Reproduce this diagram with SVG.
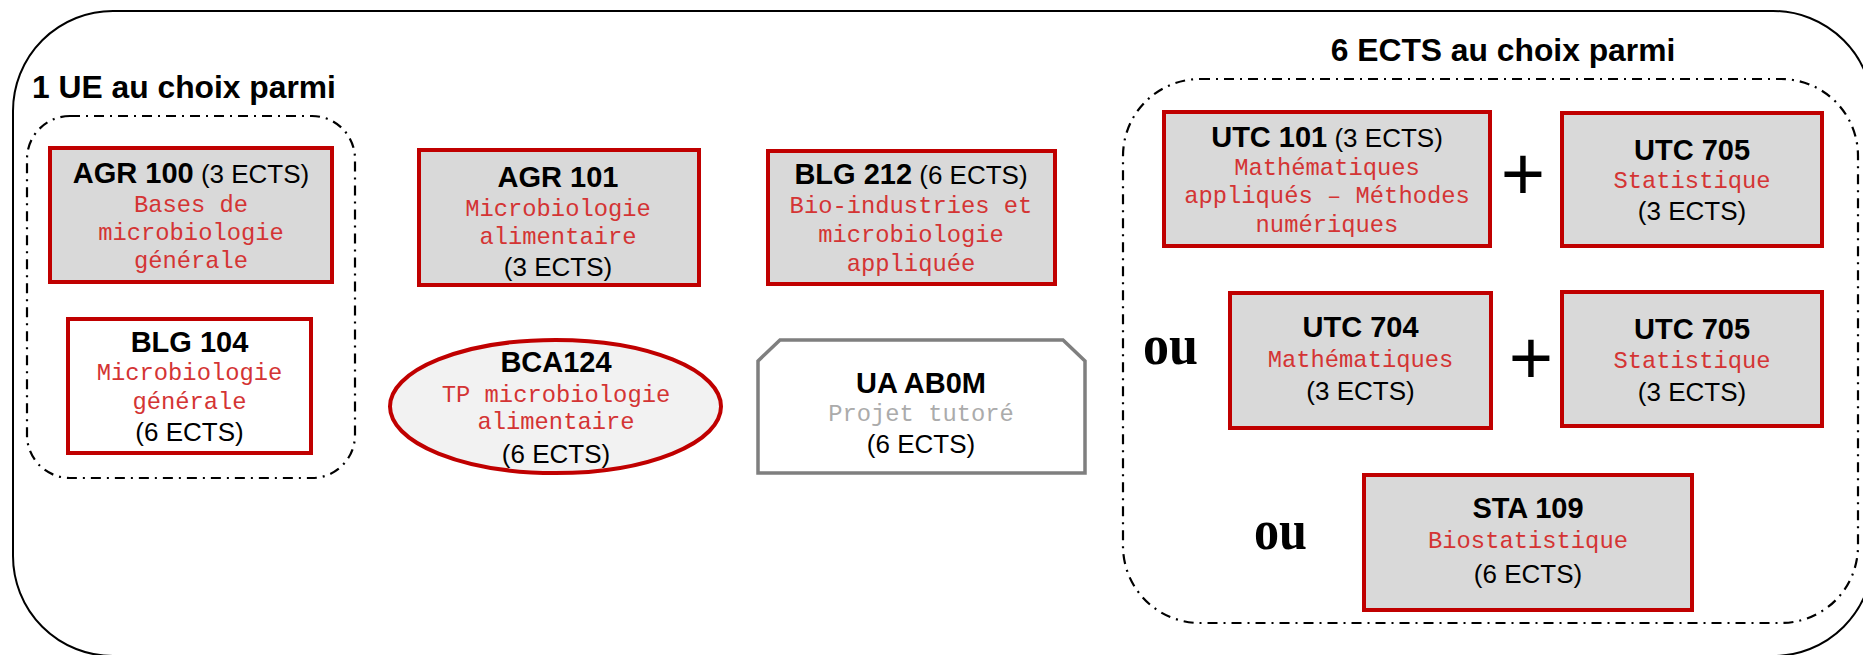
<svg xmlns="http://www.w3.org/2000/svg" width="1863" height="655" viewBox="0 0 1863 655">
<style>
.outer{fill:none;stroke:#000;stroke-width:2}
.grp{fill:none;stroke:#000;stroke-width:2.2;stroke-dasharray:10 6 2 6}
.box{fill:#d9d9d9;stroke:#c00000;stroke-width:4}
.wbox{fill:#ffffff;stroke:#c00000;stroke-width:4}
.ell{fill:#f2f2f2;stroke:#c00000;stroke-width:4}
.gbox{fill:#ffffff;stroke:#7f7f7f;stroke-width:3.5}
text{text-anchor:middle}
.h{font-family:"Liberation Sans",Arial,sans-serif;font-weight:bold;font-size:29px;fill:#000}
.e{font-family:"Liberation Sans",Arial,sans-serif;font-weight:normal;font-size:26px;fill:#000}
.r{font-family:"Liberation Mono","Courier New",monospace;font-size:23.8px;fill:#d43434}
.g{font-family:"Liberation Mono","Courier New",monospace;font-size:23.8px;fill:#ababab}
.t{font-family:"Liberation Sans",Arial,sans-serif;font-weight:bold;font-size:31.8px;fill:#000}
.ou{font-family:"Liberation Serif","Times New Roman",serif;font-weight:bold;font-size:58px;fill:#000}
.plus{font-family:"Liberation Sans",Arial,sans-serif;font-size:76px;fill:#000}
</style>
<rect class="outer" x="13" y="11" width="1860" height="645" rx="100" ry="100"/>
<g id="group-left">
<rect class="grp" x="27" y="116" width="328" height="362" rx="43" ry="43"/>
<text class="t" x="32" y="98" style="text-anchor:start">1 UE au choix parmi</text>
</g>
<g id="group-right">
<rect class="grp" x="1123" y="79" width="735" height="544" rx="77" ry="77"/>
<text class="t" x="1503" y="61">6 ECTS au choix parmi</text>
</g>
<g id="agr100">
<rect class="box" x="50" y="148" width="282" height="134"/>
<text x="191" y="183"><tspan class="h">AGR 100</tspan><tspan class="e"> (3 ECTS)</tspan></text>
<text class="r" x="191" y="212">Bases de</text>
<text class="r" x="191" y="240">microbiologie</text>
<text class="r" x="191" y="268">générale</text>
</g>
<g id="blg104">
<rect class="wbox" x="68" y="319" width="243" height="134"/>
<text class="h" x="189.5" y="352">BLG 104</text>
<text class="r" x="189.5" y="380">Microbiologie</text>
<text class="r" x="189.5" y="409">générale</text>
<text class="e" x="189.5" y="441">(6 ECTS)</text>
</g>
<g id="agr101">
<rect class="box" x="419" y="150" width="280" height="135"/>
<text class="h" x="558" y="187">AGR 101</text>
<text class="r" x="558" y="216">Microbiologie</text>
<text class="r" x="558" y="244">alimentaire</text>
<text class="e" x="558" y="276">(3 ECTS)</text>
</g>
<g id="bca124">
<ellipse class="ell" cx="555.5" cy="406.5" rx="165.5" ry="66.5"/>
<text class="h" x="556" y="372">BCA124</text>
<text class="r" x="556" y="402">TP microbiologie</text>
<text class="r" x="556" y="429">alimentaire</text>
<text class="e" x="556" y="463">(6 ECTS)</text>
</g>
<g id="blg212">
<rect class="box" x="768" y="151" width="287" height="133"/>
<text x="911" y="184"><tspan class="h">BLG 212</tspan><tspan class="e"> (6 ECTS)</tspan></text>
<text class="r" x="911" y="213">Bio-industries et</text>
<text class="r" x="911" y="242">microbiologie</text>
<text class="r" x="911" y="271">appliquée</text>
</g>
<g id="uaab0m">
<path class="gbox" d="M758,361 L780,340 L1063,340 L1085,361 L1085,473 L758,473 Z"/>
<text class="h" x="921" y="393">UA AB0M</text>
<text class="g" x="921" y="421">Projet tutoré</text>
<text class="e" x="921" y="453">(6 ECTS)</text>
</g>
<g id="utc101">
<rect class="box" x="1164" y="112" width="326" height="134"/>
<text x="1327" y="147"><tspan class="h">UTC 101</tspan><tspan class="e"> (3 ECTS)</tspan></text>
<text class="r" x="1327" y="175">Mathématiques</text>
<text class="r" x="1327" y="203">appliqués – Méthodes</text>
<text class="r" x="1327" y="232">numériques</text>
</g>
<g id="utc705a">
<rect class="box" x="1562" y="113" width="260" height="133"/>
<text class="h" x="1692" y="160">UTC 705</text>
<text class="r" x="1692" y="188">Statistique</text>
<text class="e" x="1692" y="220">(3 ECTS)</text>
</g>
<g id="utc704">
<rect class="box" x="1230" y="293" width="261" height="135"/>
<text class="h" x="1360.5" y="337">UTC 704</text>
<text class="r" x="1360.5" y="367">Mathématiques</text>
<text class="e" x="1360.5" y="400">(3 ECTS)</text>
</g>
<g id="utc705b">
<rect class="box" x="1562" y="292" width="260" height="134"/>
<text class="h" x="1692" y="339">UTC 705</text>
<text class="r" x="1692" y="368">Statistique</text>
<text class="e" x="1692" y="401">(3 ECTS)</text>
</g>
<g id="sta109">
<rect class="box" x="1364" y="475" width="328" height="135"/>
<text class="h" x="1528" y="518">STA 109</text>
<text class="r" x="1528" y="548">Biostatistique</text>
<text class="e" x="1528" y="583">(6 ECTS)</text>
</g>
<g id="labels">
<text class="plus" x="1523" y="200">+</text>
<text class="plus" x="1531" y="384">+</text>
<text class="ou" x="1170.5" y="364" textLength="55" lengthAdjust="spacingAndGlyphs">ou</text>
<text class="ou" x="1280.5" y="549" textLength="53" lengthAdjust="spacingAndGlyphs">ou</text>
</g>
<g id="connectors"></g>
</svg>
